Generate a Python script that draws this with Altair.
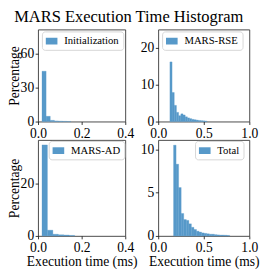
import altair as alt
import pandas as pd

FONT = "Liberation Serif"
BLUE = "#5799c9"

# ---- data ----
series = ["Initialization", "MARS-RSE", "MARS-AD", "Total"]

init_pct = [44.3, 4.6, 1.1, 0.55, 0.35, 0.2, 0.1]
rse_pct = [16.2, 7.9, 4.4, 2.5, 1.6, 2.1, 1.8, 1.3, 1.0, 0.8, 0.6, 0.5, 0.4,
           0.3, 0.25, 0.2, 0.15]
ad_pct = [34.8, 2.2, 0.65, 0.45, 0.35, 0.2]
total_pct = [10.5, 8.3, 5.6, 2.6, 1.9, 1.8, 1.4, 1.0, 0.75, 0.55, 0.45, 0.35,
             0.3, 0.25, 0.2, 0.2, 0.15, 0.12, 0.1, 0.1, 0.08, 0.06]

bin_start = [0.018, 0.128, 0.018, 0.168]
bin_width = [0.019, 0.024, 0.025, 0.028]

x_max = [0.4, 1.0, 0.4, 1.0]
y_max = [81, 25, 36.7, 11.1]
x_ticks = [[0.0, 0.2, 0.4], [0.0, 0.5, 1.0], [0.0, 0.2, 0.4], [0.0, 0.5, 1.0]]
y_ticks = [[0, 30, 60], [0, 10, 20], [0, 20], [0, 5, 10]]

title_text = "MARS Execution Time Histogram"
x_title = "Execution time (ms)"
y_title = "Percentage"

# ---- layout ----
widths = [90, 94, 90, 94]
heights = [95, 95, 99, 99]
legend_pos = [(4, 2), (4, 2), (11, 1), (38, 1)]

all_pct = [init_pct, rse_pct, ad_pct, total_pct]


def panel(i):
    vals = all_pct[i]
    rows = []
    for k, v in enumerate(vals):
        x0 = bin_start[i] + k * bin_width[i]
        rows.append({"x0": x0, "x1": x0 + bin_width[i], "pct": v, "base": 0,
                     "series": series[i]})
    df = pd.DataFrame(rows)
    left = i in (0, 2)
    bottom = i in (2, 3)
    xaxis = alt.Axis(values=x_ticks[i], format=".1f", grid=False, domain=False,
                     tickSize=3, tickColor="#000", tickWidth=0.8,
                     labelFlush=False, labelPadding=2.5, labelFont=FONT,
                     labelFontSize=14, labelColor="#000",
                     title=x_title if bottom else None, titleFont=FONT,
                     titleFontSize=14, titleFontWeight="normal",
                     titleColor="#000", titlePadding=0.5)
    yaxis = alt.Axis(values=y_ticks[i], format="d", grid=False, domain=False,
                     tickSize=3, tickColor="#000", tickWidth=0.8,
                     labelFlush=False, labelPadding=1.5, labelFont=FONT,
                     labelFontSize=14, labelColor="#000",
                     title=y_title if left else None, titleFont=FONT,
                     titleFontSize=14, titleFontWeight="normal",
                     titleColor="#000", titleX=-24, titleY=heights[i] / 2,
                     titleAngle=270, titleBaseline="middle",
                     titleAlign="center")
    lx, ly = legend_pos[i]
    legend = alt.Legend(title=None, orient="none", legendX=lx, legendY=ly,
                        labelFont=FONT, labelFontSize=11, labelColor="#000",
                        symbolType="M-1,-0.58H1V0.58H-1Z", symbolSize=144,
                        symbolStrokeWidth=0, symbolOpacity=1, labelOffset=7,
                        padding=4, strokeColor="#d6d6d6", cornerRadius=3,
                        fillColor="white")
    return alt.Chart(df).mark_rect(opacity=1, stroke=BLUE, strokeWidth=0.3).encode(
        x=alt.X("x0:Q", scale=alt.Scale(domain=[0, x_max[i]], nice=False),
                axis=xaxis),
        x2="x1:Q",
        y=alt.Y("pct:Q", scale=alt.Scale(domain=[0, y_max[i]], nice=False),
                axis=yaxis),
        y2="base:Q",
        color=alt.Color("series:N", scale=alt.Scale(range=[BLUE]),
                        legend=legend),
    ).properties(width=widths[i], height=heights[i])


chart = alt.concat(
    *[panel(i) for i in range(4)], columns=2, spacing={"row": 19, "column": 34},
    bounds="flush", align="each"
).resolve_scale(
    color="independent", x="independent", y="independent"
).properties(
    title=alt.TitleParams(title_text, font=FONT, fontSize=17,
                          fontWeight="normal", color="#000", anchor="middle",
                          baseline="alphabetic", offset=4, dx=-5, dy=14),
    autosize=alt.AutoSizeParams(type="none"),
    padding={"left": 31, "top": 18, "right": 229, "bottom": 245},
).configure_view(stroke="#333", strokeWidth=0.9).configure_legend(
    labelFont=FONT, labelFontSize=11
)

chart.save("out.html", embed_options={"renderer": "svg", "actions": False})
